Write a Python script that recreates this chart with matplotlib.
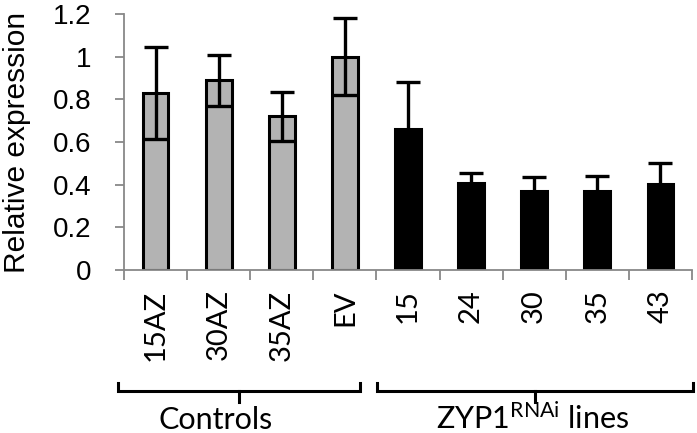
import matplotlib.pyplot as plt
import matplotlib.transforms as mtransforms
import numpy as np

plt.rcParams['mathtext.fontset'] = 'custom'
plt.rcParams['mathtext.rm'] = 'Lato'

labels = ['15AZ', '30AZ', '35AZ', 'EV', '15', '24', '30', '35', '43']
values = [0.83, 0.89, 0.72, 1.00, 0.66, 0.41, 0.37, 0.37, 0.405]
errors = [0.215, 0.12, 0.115, 0.18, 0.22, 0.045, 0.068, 0.07, 0.098]
colors = ['#b3b3b3'] * 4 + ['black'] * 5
yticks = [0, 0.2, 0.4, 0.6, 0.8, 1, 1.2]
ytick_labels = ['0', '0.2', '0.4', '0.6', '0.8', '1', '1.2']

fig = plt.figure(figsize=(6.97, 4.33), dpi=100)
ax = fig.add_axes([124/697, 1 - 270/433, 568/697, 256/433])

x = np.arange(len(labels))
ax.bar(x, values, width=0.41, color=colors, edgecolor='black', linewidth=2.2,
       yerr=errors, error_kw=dict(ecolor='black', elinewidth=2.4, capsize=8.5, capthick=2.4),
       zorder=2)

ax.set_xlim(-0.5, 8.5)
ax.set_ylim(0, 1.2)
ax.set_yticks(yticks)
ax.set_yticklabels(ytick_labels, fontsize=20, family='Liberation Sans')
ax.tick_params(axis='y', length=6.5, width=1.3, color='#888888', pad=17)

# category labels at centres, tick marks at boundaries
ax.set_xticks(x)
ax.set_xticklabels(labels, rotation=90, fontsize=21, family='Lato')
ax.tick_params(axis='x', which='major', length=0, pad=14)
ax.set_xticks(np.arange(-0.5, 9, 1), minor=True)
ax.tick_params(axis='x', which='minor', length=7, width=1.3, color='#888888')

for s in ['top', 'right']:
    ax.spines[s].set_visible(False)
for s in ['left', 'bottom']:
    ax.spines[s].set_color('#888888')
    ax.spines[s].set_linewidth(1.3)

fig.text(17/697, 1 - 142/433, 'Relative expression', rotation=90, ha='center', va='center',
         fontsize=21.5, family='Liberation Sans')

# group brackets
trans = mtransforms.blended_transform_factory(ax.transData, ax.transAxes)
def bracket(x0, x1, text, tx):
    xm = (x0 + x1) / 2
    ax.plot([x0, x0, x1, x1], [-0.441, -0.473, -0.473, -0.441], color='black', lw=2.2,
            transform=trans, clip_on=False, solid_joinstyle='miter')
    ax.plot([xm, xm], [-0.473, -0.516], color='black', lw=2.2, transform=trans, clip_on=False)
    ax.text(tx, -0.62, text, transform=trans, ha='center', va='baseline', fontsize=22, family='Lato')

bracket(-0.6, 3.24, 'Controls', 0.95)
bracket(3.51, 8.52, r'ZYP1$^{\mathrm{RNAi}}$ lines', 5.97)

fig.savefig('out.png', dpi=100)
